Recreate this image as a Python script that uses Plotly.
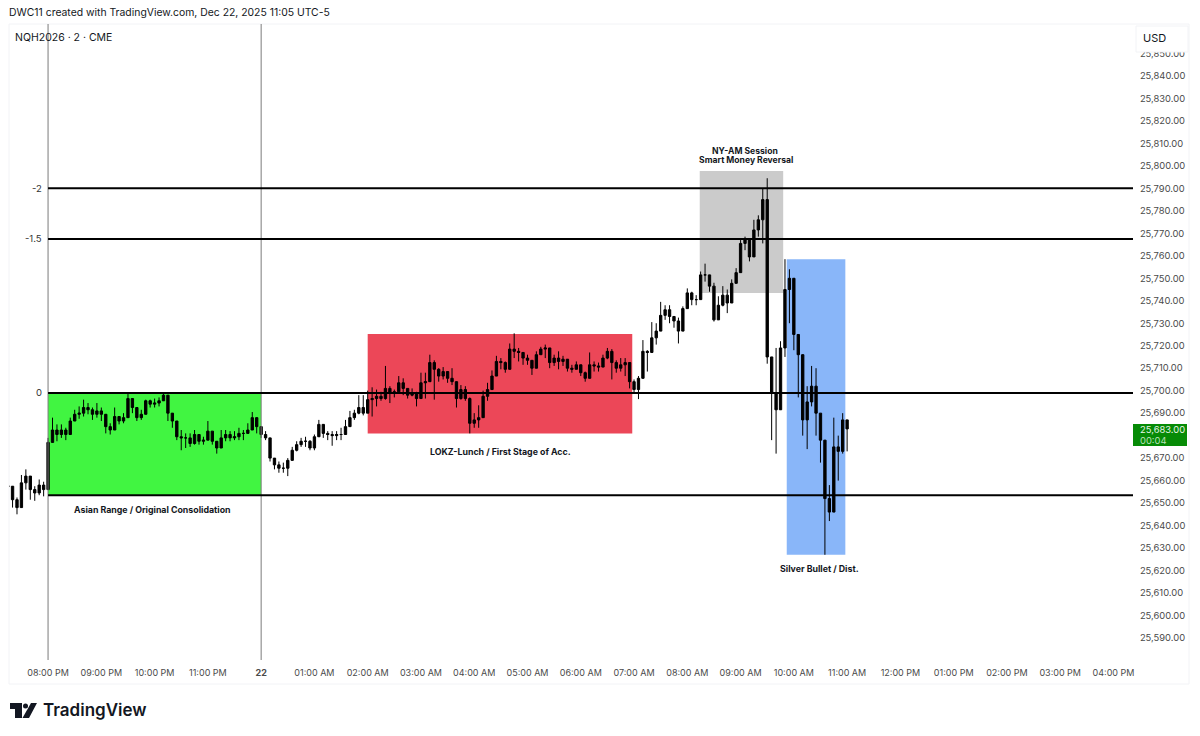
from datetime import datetime, timedelta

from plotly import graph_objects

# price readings per session, 5 minute bars
pre_close = [25657.5, 25651.5, 25648, 25659, 25662, 25656, 25654.5, 25658, 25656]
pre_high = [25663.5, 25657, 25652.5, 25662.5, 25665, 25658.5, 25657.5, 25660.5, 25659.5]
pre_low = [25653, 25648, 25645, 25650, 25656, 25651.5, 25651, 25653.5, 25653]

asia_close = [25677, 25682.5, 25680.5, 25682.5, 25680.5, 25686.5, 25689.5, 25690, 25692.5, 25691.5,
              25689.5, 25691, 25689.5, 25684, 25682.5, 25688.5, 25686.5, 25688, 25696.5, 25692.5,
              25688, 25689.5, 25695.5, 25694, 25694.5, 25695.5, 25698, 25690, 25686.5, 25679.5,
              25679, 25679, 25676.5, 25680.5, 25677.5, 25678, 25682, 25677.5, 25674.5, 25679,
              25680.5, 25679, 25679.5, 25681, 25681, 25682.5, 25688, 25684, 25680.5]
asia_high = [25679, 25688, 25685, 25685, 25683.5, 25688, 25691.5, 25693, 25696, 25694.5,
             25692.5, 25694.5, 25692.5, 25687, 25685.5, 25692.5, 25688.5, 25690, 25698.5, 25694.5,
             25690.5, 25691.5, 25696, 25696, 25696.5, 25697, 25699, 25693, 25689.5, 25686.5,
             25682.5, 25681, 25681, 25682.5, 25679.5, 25679.5, 25686.5, 25682, 25676.5, 25682.5,
             25682.5, 25682, 25682, 25683.5, 25682.5, 25685.5, 25690.5, 25686.5, 25682.5]
asia_low = [25660, 25678, 25677.5, 25679, 25678, 25681, 25687, 25687.5, 25688.5, 25689.5,
            25687, 25688, 25686.5, 25681, 25680.5, 25686.5, 25685, 25685.5, 25693.5, 25690,
            25686.5, 25687, 25692, 25692.5, 25692.5, 25693, 25696, 25686.5, 25683.5, 25678,
            25673.5, 25674.5, 25675, 25676, 25676, 25676, 25679, 25676, 25672, 25675,
            25677.5, 25677.5, 25678, 25678, 25678, 25681, 25685, 25681, 25679]

overnight_close = [25679, 25670, 25667, 25665.5, 25665.5, 25669, 25673.5, 25676, 25677.5, 25677.5, 25674.5, 25679.5,
                   25685, 25681, 25680.5, 25680, 25680.5, 25680.5, 25684, 25688, 25690, 25692.5, 25690, 25696]
overnight_high = [25682, 25674.5, 25670, 25668.5, 25668, 25670, 25675, 25677.5, 25679, 25679.5, 25678, 25680.5,
                  25687, 25683.5, 25682, 25682, 25682, 25683.5, 25687, 25691, 25691.5, 25698, 25698, 25700]
overnight_low = [25678, 25668.5, 25665, 25663.5, 25663.5, 25662, 25670, 25673, 25675, 25675, 25673.5, 25673.5,
                 25680.5, 25679, 25678, 25675.5, 25678, 25678, 25681, 25684, 25687, 25689.5, 25689, 25690]

london_close = [25696.5, 25697.5, 25696.5, 25701, 25699, 25699.5, 25703.5, 25701, 25698, 25699,
                25696.5, 25703.5, 25704, 25712.5, 25709.5, 25706.5, 25708.5, 25705.5, 25704, 25696.5,
                25700.5, 25696.5, 25685.5, 25687, 25688, 25697.5, 25700.5, 25706.5, 25713, 25712.5,
                25709.5, 25718.5, 25717.5, 25717, 25714.5, 25713.5, 25710, 25716, 25718.5, 25719,
                25712.5, 25714.5, 25713, 25714, 25710, 25709.5, 25711.5, 25708, 25705.5, 25711.5,
                25711, 25710.5, 25714.5, 25717.5, 25712.5, 25710, 25711.5, 25712.5, 25704, 25700.5,
                25705.5]
london_high = [25701.5, 25700.5, 25699.5, 25711, 25702, 25700.5, 25706.5, 25705.5, 25701, 25701,
               25699.5, 25708, 25708, 25716, 25713.5, 25710, 25710.5, 25708.5, 25710, 25702.5,
               25702.5, 25702, 25697, 25690, 25693.5, 25700, 25703.5, 25709, 25715.5, 25714.5,
               25713, 25721, 25725.5, 25719, 25716, 25716, 25713.5, 25717.5, 25719.5, 25720.5,
               25716.5, 25716, 25717.5, 25715.5, 25713, 25711.5, 25713, 25711, 25708.5, 25717,
               25713, 25712.5, 25716, 25719, 25718.5, 25713.5, 25714.5, 25714.5, 25709.5, 25705,
               25706.5]
london_low = [25688.5, 25693, 25695.5, 25696, 25694.5, 25697, 25699, 25698, 25696.5, 25697.5,
              25693, 25700.5, 25696.5, 25707, 25696, 25704, 25705, 25703.5, 25702.5, 25692.5,
              25696, 25695.5, 25681, 25683.5, 25683.5, 25694.5, 25695.5, 25702.5, 25707, 25709.5,
              25708, 25713, 25714.5, 25713, 25711.5, 25711.5, 25707, 25713, 25716, 25714.5,
              25710, 25711, 25709.5, 25711, 25708.5, 25708, 25709.5, 25706.5, 25704, 25708,
              25708.5, 25708.5, 25712.5, 25714, 25705, 25708, 25708.5, 25706.5, 25701, 25699,
              25696.25]

ny_close = [25717.5, 25717, 25723.5, 25726.5, 25733.5, 25736, 25733, 25731, 25726.5, 25736.5,
            25743.5, 25740.5, 25740.5, 25751.5, 25751.5, 25746.5, 25731.5, 25738, 25742.5, 25739,
            25747.75, 25752.5, 25765.5, 25767.5, 25759.5, 25771.5, 25776, 25785,
            25715, 25699, 25691.5, 25719, 25745, 25750, 25725, 25716, 25687,
            25695, 25702, 25690, 25678, 25652, 25646, 25675, 25673, 25687, 25683]
ny_high = [25722.5, 25718, 25730.5, 25730, 25739.5, 25738, 25738, 25733, 25732.5, 25737.5,
           25745.5, 25744, 25742.5, 25753, 25756.5, 25749.5, 25748, 25742, 25746.5, 25745,
           25749.5, 25754.5, 25767, 25768.5, 25766.5, 25776, 25778, 25790,
           25794.5, 25714, 25719, 25722, 25758.5, 25754, 25738, 25724, 25700,
           25702, 25711, 25710, 25690, 25662, 25658, 25688, 25680, 25690, 25685]
ny_low = [25712.25, 25708.5, 25716.75, 25720.5, 25730, 25731.5, 25730, 25728, 25721, 25732.5,
          25739, 25738, 25738, 25743.5, 25748.5, 25744, 25730.75, 25736, 25737.5, 25734.5,
          25742.5, 25748.5, 25755, 25762.5, 25757.5, 25767, 25768.5, 25765.5,
          25712, 25678, 25672, 25700, 25715, 25730, 25718, 25697, 25680,
          25674, 25693, 25680, 25668, 25627, 25642, 25668, 25660, 25672, 25673]

closes = pre_close + asia_close + overnight_close + london_close + ny_close
highs = pre_high + asia_high + overnight_high + london_high + ny_high
lows = pre_low + asia_low + overnight_low + london_low + ny_low
assert len(closes) == len(highs) == len(lows)
opens = [pre_close[0]] + closes[:-1]

first_bar = datetime(2025, 12, 21, 19, 15)
bar_times = [first_bar + timedelta(minutes=5 * i) for i in range(len(closes))]

hour_ticks = [datetime(2025, 12, 21, 20) + timedelta(hours=h) for h in range(21)]
hour_labels = ["08:00 PM", "09:00 PM", "10:00 PM", "11:00 PM", "<b>22</b>", "01:00 AM", "02:00 AM",
               "03:00 AM", "04:00 AM", "05:00 AM", "06:00 AM", "07:00 AM", "08:00 AM", "09:00 AM",
               "10:00 AM", "11:00 AM", "12:00 PM", "01:00 PM", "02:00 PM", "03:00 PM", "04:00 PM"]
# 25,680 sits under the last price tag in the reference
price_ticks = [p for p in range(25590, 25851, 10) if p != 25680]

fib_levels = [25790, 25767.5, 25699, 25653.5]
fib_names = ["-2", "-1.5", "0", None]

box_starts = [datetime(2025, 12, 21, 20, 0), datetime(2025, 12, 22, 2, 0),
              datetime(2025, 12, 22, 8, 14), datetime(2025, 12, 22, 9, 52)]
box_ends = [datetime(2025, 12, 22, 0, 0), datetime(2025, 12, 22, 6, 58),
            datetime(2025, 12, 22, 9, 48), datetime(2025, 12, 22, 10, 58)]
box_tops = [25699, 25725.25, 25797.75, 25758.5]
box_bottoms = [25653.5, 25681, 25743.5, 25627]
box_colors = ["#41f541", "#ec4758", "#cbcbcb", "#89b6f9"]

vline_times = [datetime(2025, 12, 21, 20, 0), datetime(2025, 12, 22, 0, 0)]
x_start = datetime(2025, 12, 21, 19, 16)
x_end = datetime(2025, 12, 22, 16, 22)

PLOT_LEFT, PLOT_RIGHT, PLOT_TOP, PLOT_BOTTOM = 9, 1133, 24, 660


def px(x):
    return (x - PLOT_LEFT) / (PLOT_RIGHT - PLOT_LEFT)


def py(y):
    return (PLOT_BOTTOM - y) / (PLOT_BOTTOM - PLOT_TOP)


def add_text(fig, x, y, text, size=8.8, color="#131722", anchor="center", weight=None):
    fig.add_annotation(x=px(x), y=py(y), xref="paper", yref="paper", text=text, showarrow=False,
                       xanchor=anchor, yanchor="middle", align="left",
                       font=dict(family="Inter", size=size, color=color, weight=weight))


fig = graph_objects.Figure()

for i in range(len(box_colors)):
    fig.add_shape(type="rect", x0=box_starts[i], x1=box_ends[i], y0=box_bottoms[i], y1=box_tops[i],
                  fillcolor=box_colors[i], line_width=0, layer="below")

for t in vline_times:
    fig.add_shape(type="line", x0=t, x1=t, yref="paper", y0=0, y1=1, line=dict(color="#7b7b7b", width=1))

for level in fib_levels:
    fig.add_shape(type="line", x0=vline_times[0], x1=x_end, y0=level, y1=level,
                  line=dict(color="black", width=2))

fig.add_trace(graph_objects.Candlestick(x=bar_times, open=opens, high=highs, low=lows, close=closes,
                                        increasing=dict(line=dict(color="black", width=1), fillcolor="black"),
                                        decreasing=dict(line=dict(color="black", width=1), fillcolor="black"),
                                        whiskerwidth=0, showlegend=False))

fig.update_layout(width=1200, height=736, margin=dict(l=PLOT_LEFT, r=1200 - PLOT_RIGHT, t=PLOT_TOP, b=736 - PLOT_BOTTOM),
                  paper_bgcolor="white", plot_bgcolor="white", boxgap=0.25, showlegend=False,
                  font=dict(family="Inter", color="#131722"))
fig.update_xaxes(type="date", range=[x_start, x_end],
                 tickvals=hour_ticks, ticktext=hour_labels, rangeslider_visible=False, showgrid=False,
                 zeroline=False, showline=False, ticks="outside", ticklen=4, tickcolor="white",
                 tickfont=dict(size=9, color="#4a4a4a"))
fig.update_yaxes(side="right", range=[25580.2, 25863.1], tickvals=price_ticks, tickformat=",.2f",
                 showgrid=False, zeroline=False, showline=False, ticks="outside", ticklen=4, tickcolor="white",
                 tickfont=dict(size=9.4, color="#4a4a4a"))

# pane outline and the USD button over the top tick
fig.add_shape(type="rect", xref="paper", yref="paper", x0=px(PLOT_LEFT), x1=px(1189), y0=py(684), y1=py(PLOT_TOP),
              line=dict(color="#f2f3f6", width=1), layer="below")
fig.add_shape(type="rect", xref="paper", yref="paper", x0=px(1136), x1=px(1188), y0=py(52), y1=py(26),
              fillcolor="white", line=dict(color="#f2f3f6", width=1))
add_text(fig, 1154, 38, "USD", size=11)

# last price tag
fig.add_shape(type="rect", xref="paper", yref="paper", x0=px(1133), x1=px(1187), y0=py(446), y1=py(424),
              fillcolor="#068b06", line_width=0)
add_text(fig, 1138, 429.5, "25,683.00", size=9.4, color="#e8f5e8", anchor="left")
add_text(fig, 1138, 440, "00:04", size=9.4, color="#b8e0b8", anchor="left")

for level, name in zip(fib_levels, fib_names):
    if name:
        fig.add_annotation(x=px(44), xref="paper", y=level, yref="y", text=name, showarrow=False, xanchor="right",
                           font=dict(family="Inter", size=9.5, color="#333333"))

add_text(fig, 152, 509, "Asian Range / Original Consolidation", weight=700)
add_text(fig, 500, 451, "LOKZ-Lunch / First Stage of Acc.", weight=700)
add_text(fig, 745, 150.5, "NY-AM Session", size=8.6, weight=700)
add_text(fig, 746, 160, "Smart Money Reversal", size=8.6, weight=700)
add_text(fig, 819, 568, "Silver Bullet / Dist.", weight=700)

add_text(fig, 7, 13, "DWC11 created with TradingView.com, Dec 22, 2025 11:05 UTC-5", size=10.4, anchor="left")
add_text(fig, 13, 37, "NQH2026 · 2 · CME", size=10.5, anchor="left")
add_text(fig, 41, 710, "TradingView", size=17, anchor="left", weight=600)

# logo mark
logo_parts = [[(10, 703), (22, 703), (22, 718), (15, 718), (15, 709), (10, 709)],
              [(31, 703), (37, 703), (29, 718), (22.5, 718)]]
for part in logo_parts:
    path = "M " + " L ".join(f"{px(x)},{py(y)}" for x, y in part) + " Z"
    fig.add_shape(type="path", path=path, xref="paper", yref="paper", fillcolor="#131722", line_width=0)
fig.add_shape(type="circle", xref="paper", yref="paper", x0=px(23), x1=px(28), y0=py(708.5), y1=py(703.5),
              fillcolor="#131722", line_width=0)

# the page's default body margin would push the figure off by 8px
fig.write_html("out.html", config={"displayModeBar": False}, post_script="document.body.style.margin='0';")
